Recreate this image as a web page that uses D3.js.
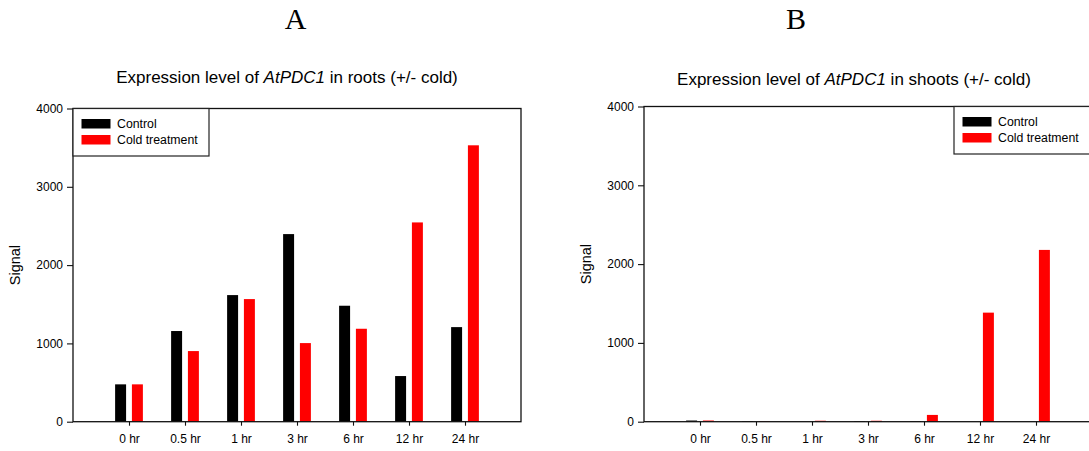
<!DOCTYPE html>
<html>
<head>
<meta charset="utf-8">
<script src="https://cdn.jsdelivr.net/npm/d3@7"></script>
<style>
  html, body { margin: 0; padding: 0; background: #fff; }
  svg { display: block; font-family: "Liberation Sans", Arial, Helvetica, sans-serif; }
</style>
</head>
<body>
<svg id="chart" width="1089" height="451"></svg>
<script>
// Time points after the start of treatment
const timepoints = ["0 hr", "0.5 hr", "1 hr", "3 hr", "6 hr", "12 hr", "24 hr"];

// Microarray signal for AtPDC1, roots
const rootsControl = [477, 1158, 1617, 2396, 1481, 583, 1208];
const rootsCold    = [477, 902, 1566, 1004, 1187, 2545, 3530];

// Microarray signal for AtPDC1, shoots
const shootsControl = [15, 7, 0, 7, 7, 0, 0];
const shootsCold    = [15, 8, 12, 12, 86, 1384, 2180];

const seriesNames = ["Control", "Cold treatment"];
const seriesColors = ["#000000", "#ff0000"];
const yTicks = [0, 1000, 2000, 3000, 4000];

const svg = d3.select("#chart");

function drawPanel(opts) {
  const g = svg.append("g");
  const x = d3.scaleLinear().domain([-1, timepoints.length]).range([opts.left, opts.right]);
  const y = d3.scaleLinear().domain([0, 4000]).range([opts.bottom, opts.top]);
  const barW = x(0.196) - x(0);
  const offsets = [-0.15, 0.15];

  // bars
  [opts.control, opts.cold].forEach((vals, s) => {
    g.append("g").selectAll("rect")
      .data(vals)
      .join("rect")
      .attr("x", (d, i) => x(i + offsets[s]) - barW / 2)
      .attr("width", barW)
      .attr("y", d => y(d))
      .attr("height", d => y(0) - y(d))
      .attr("fill", seriesColors[s]);
  });

  // y axis
  const ya = g.append("g")
    .attr("transform", `translate(${opts.left},0)`)
    .call(d3.axisLeft(y).tickValues(yTicks).tickSize(6).tickPadding(4).tickFormat(d3.format("d")));
  ya.select(".domain").remove();
  ya.selectAll("line").attr("stroke", "#111").attr("stroke-width", 1.1);
  ya.selectAll("text").attr("font-size", 12).attr("fill", "#000")
    .attr("font-family", "Liberation Sans, Arial, sans-serif");

  // x axis
  const xa = g.append("g")
    .attr("transform", `translate(0,${opts.bottom})`)
    .call(d3.axisBottom(x).tickValues(d3.range(timepoints.length)).tickSize(4).tickPadding(9)
      .tickFormat(i => timepoints[i]));
  xa.select(".domain").remove();
  xa.selectAll("line").attr("stroke", "#111").attr("stroke-width", 1.1);
  xa.selectAll("text").attr("font-size", 12).attr("fill", "#000")
    .attr("font-family", "Liberation Sans, Arial, sans-serif");

  // plot frame
  g.append("rect")
    .attr("x", opts.left).attr("y", opts.top)
    .attr("width", opts.right - opts.left).attr("height", opts.bottom - opts.top)
    .attr("fill", "none").attr("stroke", "#111").attr("stroke-width", 1.3);

  // y-axis title
  g.append("text")
    .attr("transform", `translate(${opts.left - 53.5},${(opts.top + opts.bottom) / 2}) rotate(-90)`)
    .attr("text-anchor", "middle")
    .attr("font-size", 14.5)
    .text("Signal");

  // chart title with italic gene name
  const t = g.append("text")
    .attr("x", opts.titleX).attr("y", opts.titleY)
    .attr("text-anchor", "middle")
    .attr("font-size", 17);
  t.append("tspan").text("Expression level of ");
  t.append("tspan").attr("font-style", "italic").text("AtPDC1");
  t.append("tspan").text(` in ${opts.tissue} (+/- cold)`);

  // panel letter
  svg.append("text")
    .attr("x", opts.letterX).attr("y", 29)
    .attr("text-anchor", "middle")
    .attr("font-family", "Liberation Serif, Times New Roman, serif")
    .attr("font-size", 30)
    .text(opts.letter);

  // legend
  const lg = g.append("g").attr("transform", `translate(${opts.legendX},${opts.top})`);
  lg.append("rect")
    .attr("x", 0).attr("y", 0).attr("width", opts.legendW).attr("height", 47.5)
    .attr("fill", "#fff").attr("stroke", "#222").attr("stroke-width", 1.2);
  seriesNames.forEach((name, s) => {
    lg.append("rect")
      .attr("x", 8.5).attr("y", 10.5 + s * 16).attr("width", 29).attr("height", 9.5)
      .attr("fill", seriesColors[s]);
    lg.append("text")
      .attr("x", 44).attr("y", 19.8 + s * 16)
      .attr("font-size", 12.3)
      .text(name);
  });
}

drawPanel({
  left: 73, right: 521, top: 108.5, bottom: 421.7,
  control: rootsControl, cold: rootsCold, tissue: "roots",
  titleX: 287, titleY: 83, letter: "A", letterX: 295.5,
  legendX: 73, legendW: 136
});

drawPanel({
  left: 644, right: 1092, top: 106.5, bottom: 421.7,
  control: shootsControl, cold: shootsCold, tissue: "shoots",
  titleX: 854, titleY: 85, letter: "B", letterX: 796,
  legendX: 954, legendW: 138
});
</script>
</body>
</html>
